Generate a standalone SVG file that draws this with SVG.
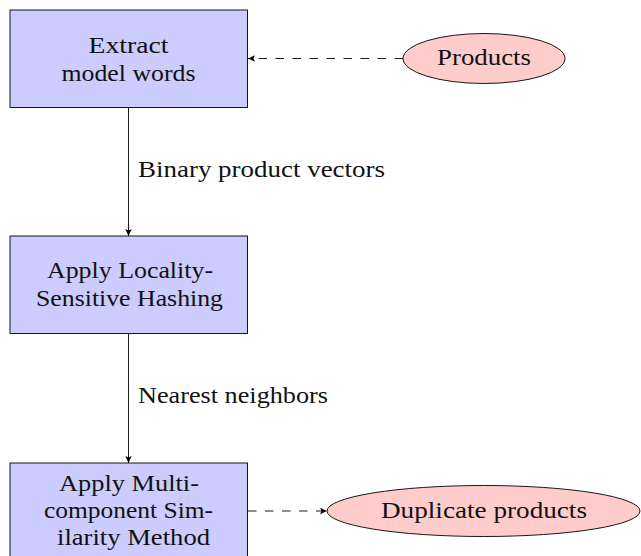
<svg xmlns="http://www.w3.org/2000/svg" width="641" height="556" viewBox="0 0 641 556">
  <style>
    .box { fill: #ccccff; stroke: #000; stroke-width: 0.9; }
    .oval { fill: #ffcccc; stroke: #000; stroke-width: 0.9; }
    .t { font-family: "Liberation Serif", "DejaVu Serif", serif; font-size: 22.5px; fill: #111; }
    .mid { text-anchor: middle; }
    .edge { fill: none; stroke: #000; stroke-width: 0.9; }
    .dash { stroke-dasharray: 8.5 8.5; }
  </style>
  <defs>
    <marker id="tip" markerUnits="userSpaceOnUse" markerWidth="10" markerHeight="8" refX="8" refY="4" orient="auto">
      <path d="M8,4 L1,0.8 L2.6,4 L1,7.2 Z" fill="#000"/>
    </marker>
  </defs>

  <!-- connectors -->
  <g id="connectors">
    <line class="edge" x1="128.5" y1="108" x2="128.5" y2="236" marker-end="url(#tip)"/>
    <line class="edge" x1="128.5" y1="334" x2="128.5" y2="463" marker-end="url(#tip)"/>
    <line class="edge dash" x1="403" y1="58.5" x2="248" y2="58.5" marker-end="url(#tip)"/>
    <line class="edge dash" x1="248" y1="511" x2="327" y2="511" marker-end="url(#tip)"/>
    <text class="t" x="138" y="177" textLength="247" lengthAdjust="spacingAndGlyphs">Binary product vectors</text>
    <text class="t" x="138" y="403" textLength="190" lengthAdjust="spacingAndGlyphs">Nearest neighbors</text>
  </g>

  <g id="extract">
    <rect class="box" x="10" y="10" width="237.5" height="97.5"/>
    <text class="t mid" x="128.5" y="53" textLength="80" lengthAdjust="spacingAndGlyphs">Extract</text>
    <text class="t mid" x="128.5" y="80.5" textLength="134" lengthAdjust="spacingAndGlyphs">model words</text>
  </g>

  <g id="lsh">
    <rect class="box" x="10" y="236" width="237.5" height="97.5"/>
    <text class="t mid" x="130" y="278" textLength="166" lengthAdjust="spacingAndGlyphs">Apply Locality-</text>
    <text class="t mid" x="129.5" y="305.5" textLength="187" lengthAdjust="spacingAndGlyphs">Sensitive Hashing</text>
  </g>

  <g id="msm">
    <rect class="box" x="10" y="463" width="237.5" height="100"/>
    <text class="t mid" x="129" y="491" textLength="140" lengthAdjust="spacingAndGlyphs">Apply Multi-</text>
    <text class="t mid" x="128.5" y="518" textLength="169" lengthAdjust="spacingAndGlyphs">component Sim-</text>
    <text class="t mid" x="133.5" y="544.5" textLength="153" lengthAdjust="spacingAndGlyphs">ilarity Method</text>
  </g>

  <g id="products">
    <ellipse class="oval" cx="484" cy="58.5" rx="81" ry="25"/>
    <text class="t mid" x="484" y="65" textLength="94" lengthAdjust="spacingAndGlyphs">Products</text>
  </g>

  <g id="duplicates">
    <ellipse class="oval" cx="483.5" cy="511" rx="156.5" ry="25.5"/>
    <text class="t mid" x="484" y="517.5" textLength="206" lengthAdjust="spacingAndGlyphs">Duplicate products</text>
  </g>
</svg>
